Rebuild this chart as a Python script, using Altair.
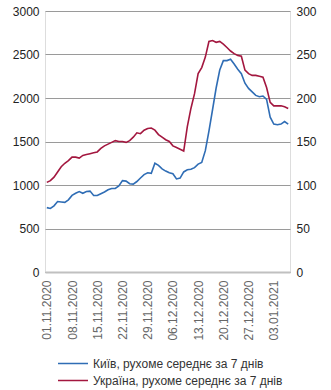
import altair as alt
import pandas as pd

start_date = "2020-11-01"
kyiv = [740, 730, 760, 810, 805, 800, 830, 880, 905, 925,
        905, 925, 930, 880, 880, 900, 920, 945, 960, 960,
        990, 1050, 1045, 1015, 1010, 1040, 1080, 1120, 1140, 1135,
        1250, 1225, 1185, 1160, 1140, 1130, 1070, 1080, 1150, 1175,
        1180, 1200, 1240, 1260, 1395, 1620, 1865, 2115, 2322, 2430,
        2430, 2445, 2390, 2330, 2280, 2170, 2110, 2070, 2030, 2015,
        2023, 1985, 1780, 1700, 1693, 1700, 1730, 1700]
ukraine = [103, 105, 109, 115, 121, 125, 128, 132, 132, 131,
           134, 135, 136, 137, 138, 142, 145, 147, 149, 151,
           150, 150, 149, 151, 155, 160, 159, 163, 165, 165.5,
           163, 158, 155, 152, 150, 145, 143, 141, 139, 167,
           188, 205, 228, 235, 247, 265, 266, 264, 265, 262,
           258, 254, 251, 249, 248, 232, 228, 226, 226, 225,
           224, 212, 195, 191, 191, 191, 190, 188]
series_names = ["Київ, рухоме середнє за 7 днів", "Україна, рухоме середнє за 7 днів"]
series_colors = ["#2f6db5", "#a3173f"]
left_ticks = [0, 500, 1000, 1500, 2000, 2500, 3000]
right_ticks = [0, 50, 100, 150, 200, 250, 300]

dates = pd.date_range(start_date, periods=len(kyiv), freq="D")
df = pd.concat([
    pd.DataFrame({"date": dates, "value": kyiv, "series": series_names[0]}),
    pd.DataFrame({"date": dates, "value": ukraine, "series": series_names[1]}),
])

font = "Liberation Sans"
tick_dates = [d.strftime("%Y-%m-%d") for d in pd.date_range(start_date, "2021-01-03", freq="7D")]
x = alt.X(
    "date:T",
    scale=alt.Scale(domain=["2020-10-31T12:00:00", "2021-01-07T12:00:00"]),
    axis=alt.Axis(
        title=None, format="%d.%m.%Y", labelAngle=-90, values=tick_dates,
        ticks=False, grid=False, domainColor="#c0c0c0", domainWidth=2,
        labelFontSize=12, labelColor="#666666", labelPadding=8, labelFont=font,
        labelOverlap=False,
    ),
)
color = alt.Color(
    "series:N",
    scale=alt.Scale(domain=series_names, range=series_colors),
    legend=alt.Legend(
        title=None, orient="none", legendX=12, legendY=344, direction="vertical",
        symbolType="stroke", symbolSize=900, symbolStrokeWidth=1.5,
        clipHeight=17, rowPadding=0,
        labelFontSize=12, labelFont=font, labelColor="#333333",
        labelOffset=4, labelLimit=300,
    ),
)

base = alt.Chart(df)
left = base.transform_filter(alt.datum.series == series_names[0]).mark_line(strokeWidth=1.6).encode(
    x=x,
    y=alt.Y("value:Q", scale=alt.Scale(domain=[0, 3000]),
            axis=alt.Axis(title=None, values=left_ticks, format="d", orient="left", ticks=False, domain=False,
                          gridColor="#9a9a9a", gridWidth=1.2, labelFontSize=12, labelFont=font,
                          labelColor="#222222", labelPadding=6)),
    color=color,
)
right = base.transform_filter(alt.datum.series == series_names[1]).mark_line(strokeWidth=1.6).encode(
    x=x,
    y=alt.Y("value:Q", scale=alt.Scale(domain=[0, 300]),
            axis=alt.Axis(title=None, values=right_ticks, format="d", orient="right", ticks=False, domain=False,
                          grid=False, labelFontSize=12, labelFont=font,
                          labelColor="#222222", labelPadding=6)),
    color=color,
)

chart = alt.layer(left, right).resolve_scale(y="independent").properties(
    width=245, height=261,
    autosize=alt.AutoSizeParams(type="none"),
    padding={"left": 45, "top": 11, "right": 41, "bottom": 118},
).configure_view(stroke=None).configure(background="white")

chart.save("out.html", embed_options={"renderer": "svg", "actions": False})
